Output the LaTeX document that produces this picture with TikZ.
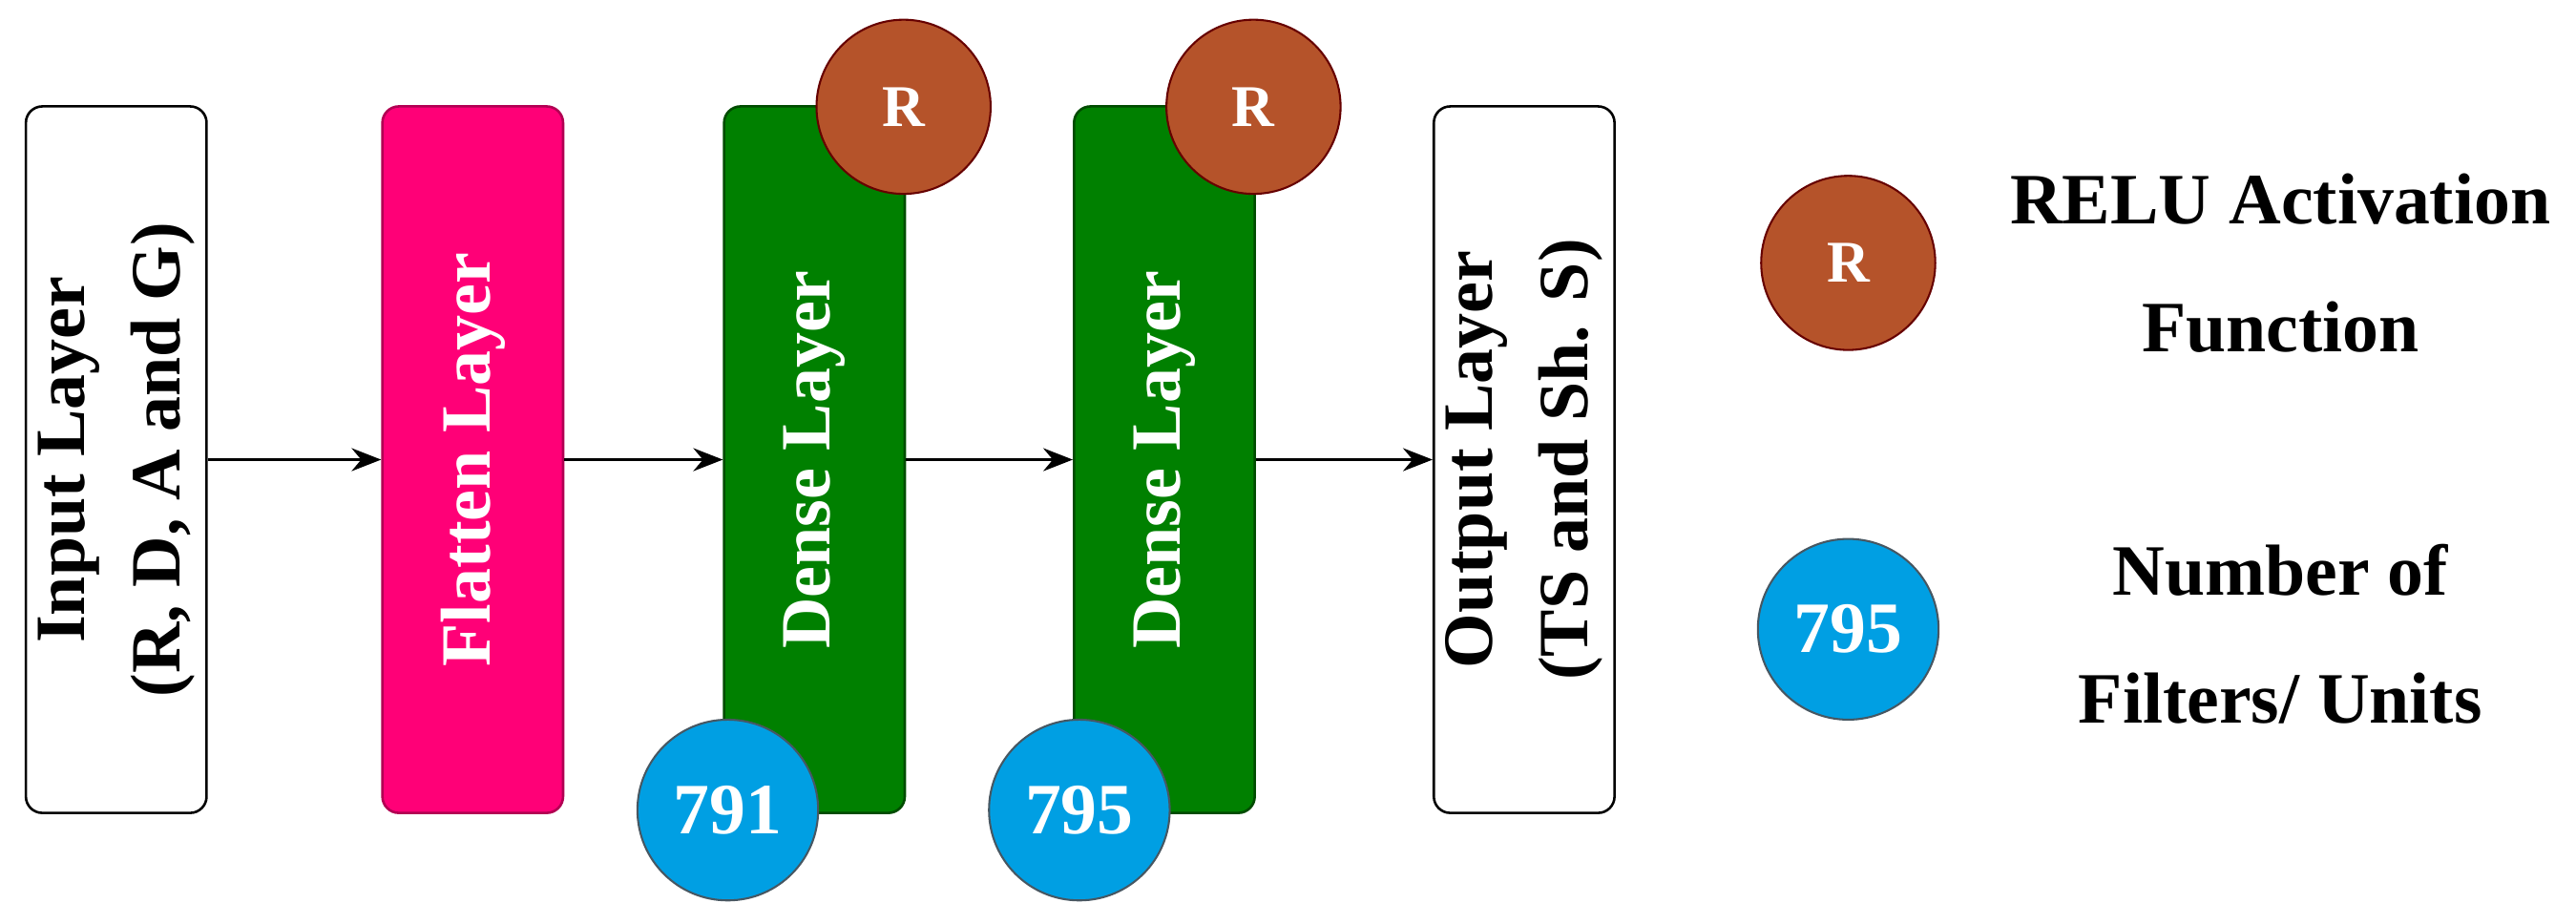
\documentclass[tikz,border=0pt]{standalone}
\usepackage{fontspec}
\setmainfont{Liberation Serif}
\usetikzlibrary{arrows.meta}
\begin{document}
\begin{tikzpicture}[x=1pt,y=-1pt,
 lay/.style={draw,line width=1.5pt,rounded corners=10pt,minimum width=110pt,minimum height=430pt,anchor=north west,inner sep=0pt},
 txt/.style={font=\fontsize{43}{58}\selectfont\bfseries,align=center,rotate=90},
 rc/.style={circle,draw=red!40!black,line width=1.2pt,fill=rbrown,minimum size=106pt,text=white,font=\fontsize{36}{40}\selectfont\bfseries},
 bc/.style={circle,draw=cyan!30!black,line width=1.2pt,fill=cblue,minimum size=110pt,text=white,font=\fontsize{44}{48}\selectfont\bfseries},
 arr/.style={-{Stealth[length=18pt,width=14pt]},line width=1.5pt},
 leg/.style={font=\fontsize{44}{78}\selectfont\bfseries,align=center}]
\definecolor{rbrown}{HTML}{B5532A}
\definecolor{cblue}{HTML}{009FE3}
\definecolor{pink}{HTML}{FF0077}
\definecolor{dgreen}{HTML}{008000}
\useasboundingbox (0,0) rectangle (1568,562);
\node[lay,fill=white] (in) at (15,64) {};
\node[txt] at (in.center) {Input Layer\\(R, D, A and G)};
\node[lay,fill=pink,draw=pink!70!black] (fl) at (232,64) {};
\node[txt,text=white] at (fl.center) {Flatten Layer};
\node[lay,fill=dgreen,draw=green!30!black] (d1) at (440,64) {};
\node[txt,text=white] at (d1.center) {Dense Layer};
\node[lay,fill=dgreen,draw=green!30!black] (d2) at (653,64) {};
\node[txt,text=white] at (d2.center) {Dense Layer};
\node[lay,fill=white] (out) at (872,64) {};
\node[txt] at (out.center) {Output Layer\\(TS and Sh. S)};
\node[rc] (r1) at (550,65) {R};
\node[rc] (r2) at (763,65) {R};
\node[bc] (b1) at (443,493) {791};
\node[bc] (b2) at (657,493) {795};
\draw[arr] (in.east) -- (fl.west);
\draw[arr] (fl.east) -- (d1.west);
\draw[arr] (d1.east) -- (d2.west);
\draw[arr] (d2.east) -- (out.west);
\node[rc] (lr) at (1125,160) {R};
\node[bc] (lb) at (1125,383) {795};
\node[leg] (lt1) at (1388,160) {RELU Activation\\Function};
\node[leg] (lt2) at (1388,386) {Number of\\Filters/ Units};
\end{tikzpicture}
\end{document}
